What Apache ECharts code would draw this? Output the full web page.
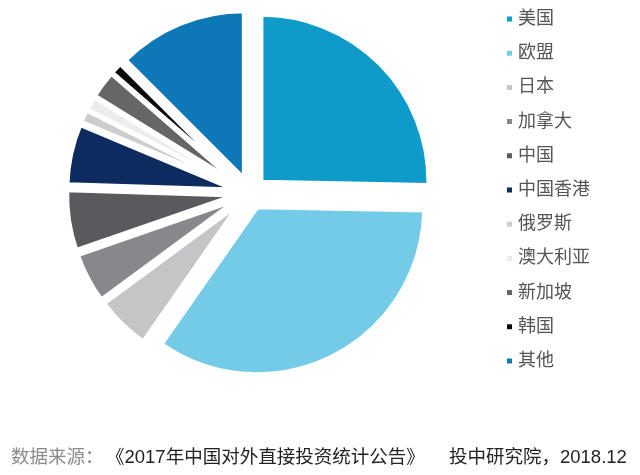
<!DOCTYPE html>
<html>
<head>
<meta charset="utf-8">
<script src="https://cdn.jsdelivr.net/npm/echarts@6/dist/echarts.min.js"></script>
<style>
  html, body { margin: 0; padding: 0; background: #ffffff; }
  #chart { width: 640px; height: 475px; }
</style>
</head>
<body>
<div id="chart"></div>
<script>
// 2017 对外直接投资 分布（占比，%）
const categories = ['美国', '欧盟', '日本', '加拿大', '中国', '中国香港', '俄罗斯', '澳大利亚', '新加坡', '韩国', '其他'];
const shares = [25.3, 34.4, 5.2, 4.8, 5.8, 5.8, 1.2, 1.3, 2.6, 1.1, 12.5];
const sliceColors = ['#0e9bc9', '#74cbe8', '#c5c5c8', '#88888c', '#5a5a5e', '#0d2b5e',
                     '#cdcdd0', '#ececee', '#666669', '#0a0a0a', '#0c78b5'];
const sourceLabel = '数据来源：';
const sourceTitle = '《2017年中国对外直接投资统计公告》';
const publisher = '投中研究院，2018.12';

const FONT = '"Liberation Sans", "Noto Sans CJK SC", sans-serif';

const chart = echarts.init(document.getElementById('chart'), null, { renderer: 'canvas' });

const pieData = categories.map((name, i) => ({
  name: name,
  value: shares[i],
  selected: true
}));

chart.setOption({
  animation: false,
  color: sliceColors,
  legend: {
    orient: 'vertical',
    left: 500,
    top: 4,
    icon: 'rect',
    itemWidth: 7,
    itemHeight: 7,
    itemGap: 14.2,
    selectedMode: false,
    textStyle: {
      fontSize: 18,
      lineHeight: 20,
      color: '#555555',
      fontFamily: FONT
    },
    data: categories
  },
  series: [{
    type: 'pie',
    center: [250, 193],
    radius: [0, 167],
    startAngle: 90,
    clockwise: true,
    selectedMode: 'multiple',
    selectedOffset: 16,
    avoidLabelOverlap: false,
    label: { show: false },
    labelLine: { show: false },
    emphasis: { disabled: true },
    itemStyle: {
      borderColor: '#ffffff',
      borderWidth: 4
    },
    data: pieData
  }],
  graphic: [
    {
      type: 'text',
      left: 11,
      top: 449,
      style: {
        text: sourceLabel,
        fontSize: 18.5,
        fontFamily: FONT,
        fill: '#8a8a8a'
      }
    },
    {
      type: 'text',
      left: 106,
      top: 449,
      style: {
        text: sourceTitle,
        fontSize: 18.5,
        fontFamily: FONT,
        fill: '#222222'
      }
    },
    {
      type: 'text',
      left: 449,
      top: 449,
      style: {
        text: publisher,
        fontSize: 18.5,
        fontFamily: FONT,
        fill: '#222222'
      }
    }
  ]
});
</script>
</body>
</html>
